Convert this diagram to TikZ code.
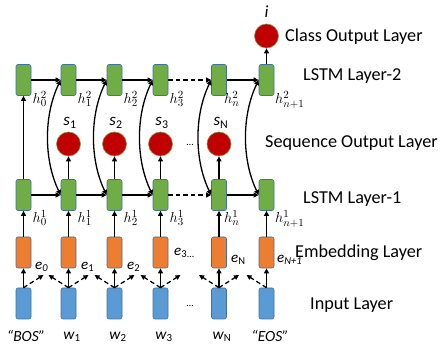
\documentclass[tikz,border=0pt]{standalone}
\usepackage{fontspec}
\setmainfont{Carlito}
\usetikzlibrary{arrows.meta}
\definecolor{lgreen}{HTML}{70AD47}
\definecolor{lorange}{HTML}{ED7D31}
\definecolor{lblue}{HTML}{5B9BD5}
\definecolor{lborder}{HTML}{41719C}
\definecolor{lred}{HTML}{C00000}
\definecolor{redrim}{HTML}{8C8C46}
\begin{document}
\begin{tikzpicture}[x=1pt,y=-1pt,
  cell/.style={draw=lborder, line width=0.6pt, rounded corners=2pt, minimum width=15pt, minimum height=31pt, inner sep=0pt},
  lstm/.style={cell, fill=lgreen},
  emb/.style={cell, fill=lorange},
  inp/.style={cell, fill=lblue},
  outc/.style={circle, fill=lred, draw=redrim, line width=0.6pt, minimum size=24pt, inner sep=0pt},
  arr/.style={line width=1.3pt, -{Triangle[length=5pt,width=4.8pt]}},
  darr/.style={arr, dash pattern=on 4.5pt off 3pt},
  barr/.style={line width=1.3pt, {Triangle[length=5pt,width=4.8pt]}-{Triangle[length=5pt,width=4.8pt]}},
  lay/.style={font=\fontsize{18.2}{20}\selectfont, anchor=west, inner sep=0pt},
  hl/.style={font=\fontsize{15.5}{17}\selectfont, anchor=west, inner sep=0pt},
  el/.style={font=\fontsize{15}{16}\selectfont, anchor=west, inner sep=0pt},
  sl/.style={font=\fontsize{17}{18}\selectfont, inner sep=0pt},
  wl/.style={font=\fontsize{15.5}{17}\selectfont, inner sep=0pt},
  dots/.style={font=\fontsize{10}{12}\selectfont, inner sep=0pt},
]
\useasboundingbox (0,0) rectangle (440,347);

% boxes
\foreach \i/\x in {0/23.5,1/68.5,2/114.5,3/160.5,4/219,5/266.5}{
  \node[lstm] (A\i) at (\x,80) {};
  \node[lstm] (B\i) at (\x,195) {};
  \node[emb]  (E\i) at (\x,252.5) {};
  \node[inp]  (I\i) at (\x,303.5) {};
  \draw[arr] (I\i.north) -- (E\i.south);
  \draw[arr] (E\i.north) -- (B\i.south);
}
% sequence outputs
\foreach \i/\x in {1/68.5,2/114.5,3/160.5,4/219}{
  \node[outc] (S\i) at (\x,144) {};
  \draw[arr] (B\i.north) -- (S\i.south);
}
\node[outc] (C) at (266.5,36) {};
\draw[arr] (A5.north) -- (C.south);
\draw[arr] (B0.north) -- (A0.south);

% horizontal recurrences
\foreach \a/\b in {0/1,1/2,2/3,4/5}{
  \draw[arr] (A\a.east) -- (A\b.west);
  \draw[arr] (B\a.east) -- (B\b.west);
}
\draw[darr] (A3.east) -- (A4.west);
\draw[darr] (B3.east) -- (B4.west);

% curved connections
\foreach \i in {1,2,3,4,5}{
  \draw[barr] (A\i.west) .. controls +(-17,35) and +(-17,-35) .. (B\i.west);
}

% dashed context arrows
\foreach \i/\x in {0/23.5,1/68.5,2/114.5,3/160.5,4/219}{
  \coordinate (R\i) at (\x+20,275);
  \draw[darr] (I\i.north) -- (R\i);
}
\foreach \i/\x in {1/68.5,2/114.5,3/160.5,4/219,5/266.5}{
  \coordinate (L\i) at (\x-20,275);
  \draw[darr] (I\i.north) -- (L\i);
}

% h labels
\node[hl] (h20) at (32.5,99) {$h_0^2$};
\node[hl] (h21) at (77.5,99) {$h_1^2$};
\node[hl] (h22) at (123.5,99) {$h_2^2$};
\node[hl] (h23) at (169.5,99) {$h_3^2$};
\node[hl] (h2n) at (224,99) {$h_n^2$};
\node[hl] (h2m) at (275,100) {$h_{n+1}^2$};
\node[hl] (h10) at (32.5,218) {$h_0^1$};
\node[hl] (h11) at (77.5,218) {$h_1^1$};
\node[hl] (h12) at (123.5,218) {$h_2^1$};
\node[hl] (h13) at (169.5,218) {$h_3^1$};
\node[hl] (h1n) at (224,218) {$h_n^1$};
\node[hl] (h1m) at (275,219) {$h_{n+1}^1$};

% e labels
\node[el] (e0) at (35,267) {\textit{e}\textsubscript{\textit{0}}};
\node[el] (e1) at (81,267) {\textit{e}\textsubscript{1}};
\node[el] (e2) at (127,267) {\textit{e}\textsubscript{2}};
\node[el] (e3) at (174,253) {\textit{e}\textsubscript{3}\raisebox{-2pt}{\fontsize{10}{12}\selectfont…}};
\node[el] (eN) at (231,260) {\textit{e}\textsubscript{N}};
\node[el] (eM) at (277,260) {\textit{e}\textsubscript{\textit{N+1}}};

% s labels
\node[sl] (s1) at (70,123) {\textit{s}\textsubscript{1}};
\node[sl] (s2) at (116,123) {\textit{s}\textsubscript{2}};
\node[sl] (s3) at (162,123) {\textit{s}\textsubscript{3}};
\node[sl] (sN) at (221,123) {\textit{s}\textsubscript{N}};
\node[sl] (iL) at (266.5,12) {\textit{i}};
\node[dots] (d1) at (190,145) {…};
\node[dots] (d2) at (190,306) {…};

% bottom labels
\node[wl] (wB) at (26,336) {\textit{“BOS”}};
\node[wl] (w1) at (72,337) {\textit{w}\textsubscript{1}};
\node[wl] (w2) at (118,337) {\textit{w}\textsubscript{2}};
\node[wl] (w3) at (164,337) {\textit{w}\textsubscript{3}};
\node[wl] (wN) at (222,337) {\textit{w}\textsubscript{N}};
\node[wl] (wE) at (270,336) {\textit{“EOS”}};

% layer names
\node[lay] (t1) at (285,37) {Class Output Layer};
\node[lay] (t2) at (303,76) {LSTM Layer-2};
\node[lay] (t3) at (265,143) {Sequence Output Layer};
\node[lay] (t4) at (303,199) {LSTM Layer-1};
\node[lay] (t5) at (295,253) {Embedding Layer};
\node[lay] (t6) at (310,305) {Input Layer};
\end{tikzpicture}
\end{document}
